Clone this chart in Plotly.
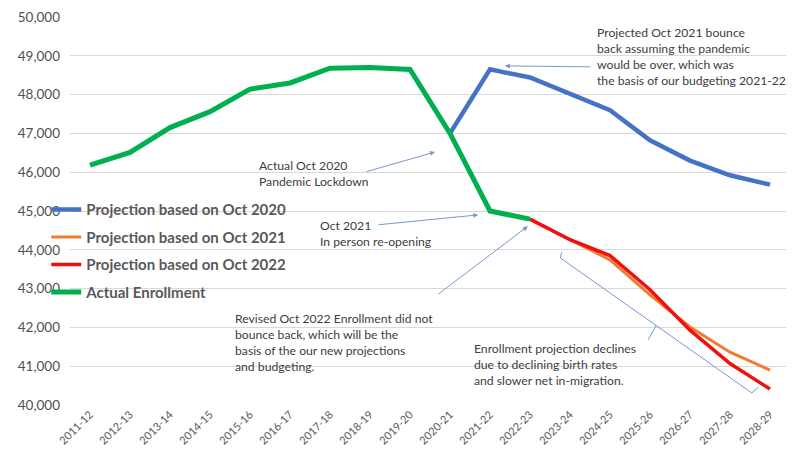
import plotly.graph_objects as go

# school years on the x axis
years = ['2011-12', '2012-13', '2013-14', '2014-15', '2015-16', '2016-17',
         '2017-18', '2018-19', '2019-20', '2020-21', '2021-22', '2022-23',
         '2023-24', '2024-25', '2025-26', '2026-27', '2027-28', '2028-29']

# actual enrollment (2011-12 .. 2022-23)
actual_years = years[:12]
actual = [46180, 46510, 47150, 47560, 48140, 48300,
          48680, 48700, 48650, 47000, 45000, 44790]

# projection made in Oct 2020 (2020-21 .. 2028-29)
proj20_years = years[9:]
proj20 = [47000, 48650, 48440, 48030, 47600, 46820, 46300, 45920, 45680]

# projections made in Oct 2021 / Oct 2022 (2022-23 .. 2028-29)
proj_years = years[11:]
proj21 = [44790, 44260, 43740, 42840, 42010, 41360, 40900]
proj22 = [44790, 44260, 43850, 42970, 41930, 41070, 40410]

FONT = 'Lato, Carlito, sans-serif'
GREY = '#595959'
ARROW = '#7b97cf'

fig = go.Figure()
fig.add_trace(go.Scatter(x=proj20_years, y=proj20, mode='lines', name='Projection based on Oct 2020',
                         line=dict(color='#4472C4', width=4.5), legendgroup='a'))
fig.add_trace(go.Scatter(x=proj_years, y=proj21, mode='lines', name='Projection based on Oct 2021',
                         line=dict(color='#ED7D31', width=3), legendgroup='b'))
fig.add_trace(go.Scatter(x=proj_years, y=proj22, mode='lines', name='Projection based on Oct 2022',
                         line=dict(color='#F01010', width=3.5), legendgroup='c'))
fig.add_trace(go.Scatter(x=actual_years, y=actual, mode='lines', name='Actual Enrollment',
                         line=dict(color='#00B050', width=5), legendgroup='d'))

notes = [
    ('Actual Oct 2020<br>Pandemic Lockdown', 0.260, 0.642),
    ('Oct 2021<br>In person re-opening', 0.344, 0.487),
    ('Revised Oct 2022 Enrollment did not<br>bounce back, which will be the<br>'
     'basis of the our new projections<br>and budgeting.', 0.226, 0.247),
    ('Projected Oct 2021 bounce<br>back assuming the pandemic<br>would be over, which was<br>'
     'the basis of our budgeting 2021-22', 0.729, 0.985),
    ('Enrollment projection declines<br>due to declining birth rates<br>'
     'and slower net in-migration.', 0.558, 0.170),
]
for text, x, y in notes:
    fig.add_annotation(text=text, x=x, y=y, xref='paper', yref='paper',
                       xanchor='left', yanchor='top', align='left', showarrow=False,
                       font=dict(family=FONT, size=12.2, color='#404040'))

# arrows: head position in paper coords, tail offset in pixels
arrows = [(0.507, 0.652, -70, 20), (0.567, 0.490, -101, 10),
          (0.636, 0.461, -91, 69), (0.604, 0.874, 87, 1)]
for x, y, ax, ay in arrows:
    fig.add_annotation(text='', x=x, y=y, xref='paper', yref='paper',
                       ax=ax, ay=ay, axref='pixel', ayref='pixel', showarrow=True,
                       arrowhead=2, arrowsize=1, arrowwidth=1, arrowcolor=ARROW)

# bracket around the declining projections
fig.add_shape(type='path', xref='paper', yref='paper',
              path='M 0.683 0.394 L 0.681 0.379 L 0.947 0.031 L 0.956 0.046',
              line=dict(color=ARROW, width=1))
fig.add_shape(type='line', xref='paper', yref='paper', x0=0.814, y0=0.205, x1=0.803, y1=0.168,
              line=dict(color=ARROW, width=1))

# white patch hiding the gridlines behind the legend text
fig.add_shape(type='rect', xref='paper', yref='paper', x0=0.0, x1=0.33, y0=0.27, y1=0.53,
              layer='between', fillcolor='white', line=dict(width=0))

# the page has an 8px body margin, so the figure is drawn 8px smaller
fig.update_layout(
    width=786, height=445,
    paper_bgcolor='white', plot_bgcolor='white',
    font=dict(family=FONT, color=GREY),
    margin=dict(l=62, r=4, t=9, b=48),
    showlegend=True,
    legend=dict(x=-0.033, y=0.546, xanchor='left', yanchor='top', bgcolor='rgba(0,0,0,0)',
                font=dict(size=15, color=GREY, weight='bold'), tracegroupgap=5,
                itemwidth=30),
    xaxis=dict(type='category', categoryorder='array', categoryarray=years,
               range=[-0.5, 17.5], tickangle=-45, tickfont=dict(size=11, color=GREY),
               showgrid=False, showline=False, ticks='', automargin=False),
    yaxis=dict(range=[40000, 50000], dtick=1000, tickformat=',', showgrid=True,
               gridcolor='#D9D9D9', zeroline=False, showline=False, automargin=False,
               tickfont=dict(size=13.5, color='#505050'), ticklabelstandoff=9),
)

fig.write_html('out.html')
